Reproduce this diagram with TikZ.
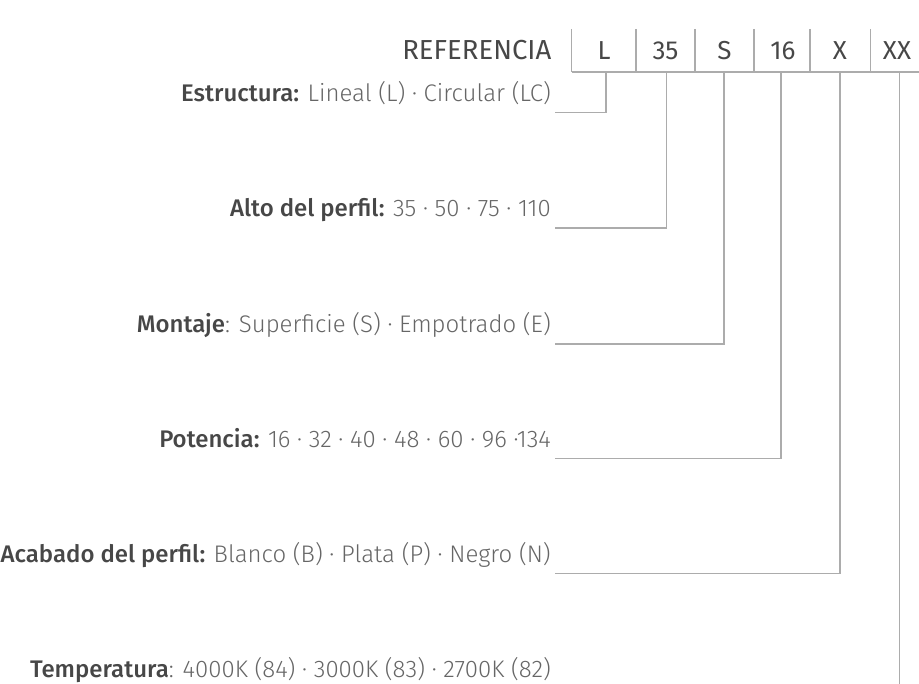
\documentclass[tikz,border=0pt]{standalone}
\usepackage{fontspec}
\setmainfont{Fira Sans}
\newfontfamily\lightf{Fira Sans Light}
\newfontfamily\medf{Fira Sans Medium}
\definecolor{labc}{HTML}{474747}
\definecolor{valc}{HTML}{666666}
\definecolor{linec}{HTML}{ACACAC}
\newcommand{\lab}[1]{{\medf\color{labc}#1}}
\newcommand{\val}[1]{{\lightf\color{valc}#1}}
\begin{document}
\begin{tikzpicture}[x=1pt,y=-1pt,
  rule/.style={draw=linec,line width=1.5pt},
  cell/.style={anchor=base,inner sep=0pt,text=labc,font=\fontsize{26}{30}\selectfont},
  desc/.style={anchor=base east,inner sep=0pt,font=\fontsize{24}{28}\selectfont}]
\useasboundingbox (0,0) rectangle (919,684);
% header
\node[cell,anchor=base east,font=\fontsize{27.5}{30}\selectfont] (ref) at (551.5,60) {REFERENCIA};
\node[cell] (tL) at (604,60) {L};
\node[cell] (t35) at (665.5,60) {35};
\node[cell] (tS) at (724.5,60) {S};
\node[cell] (t16) at (783,60) {16};
\node[cell] (tX) at (840,60) {X};
\node[cell] (tXX) at (897,60) {XX};
\foreach \x in {571.5,636,695,754,810,870.5}
  \draw[rule] (\x,29) -- (\x,72);
\draw[rule] (571.5,72) -- (919,72);
% descriptions
\node[desc] (d1) at (551,101.5) {\lab{Estructura:} \val{Lineal (L) · Circular (LC)}};
\node[desc] (d2) at (551,216.7) {\lab{Alto del perfil:} \val{35 · 50 · 75 · 110}};
\node[desc] (d3) at (551,332.5) {\lab{Montaje}\val{: Superficie (S) · Empotrado (E)}};
\node[desc] (d4) at (551,447.5) {\lab{Potencia:} \val{16 · 32 · 40 · 48 · 60 · 96 ·134}};
\node[desc] (d5) at (551,562) {\lab{Acabado del perfil:} \val{Blanco (B) · Plata (P) · Negro (N)}};
\node[desc] (d6) at (551,677) {\lab{Temperatura}\val{: 4000K (84) · 3000K (83) · 2700K (82)}};
% connector anchors
\coordinate (cL) at (606,72);
\coordinate (c35) at (666.5,72);
\coordinate (cS) at (724,72);
\coordinate (c16) at (781,72);
\coordinate (cX) at (840,72);
\coordinate (cXX) at (899.5,72);
\coordinate (e1) at (555,112.3);
\coordinate (e2) at (555,228);
\coordinate (e3) at (555,344);
\coordinate (e4) at (555,458.7);
\coordinate (e5) at (555,573.7);
\coordinate (e6) at (899.5,684);
\draw[rule] (cL) |- (e1);
\draw[rule] (c35) |- (e2);
\draw[rule] (cS) |- (e3);
\draw[rule] (c16) |- (e4);
\draw[rule] (cX) |- (e5);
\draw[rule] (cXX) -- (e6);
\end{tikzpicture}
\end{document}
